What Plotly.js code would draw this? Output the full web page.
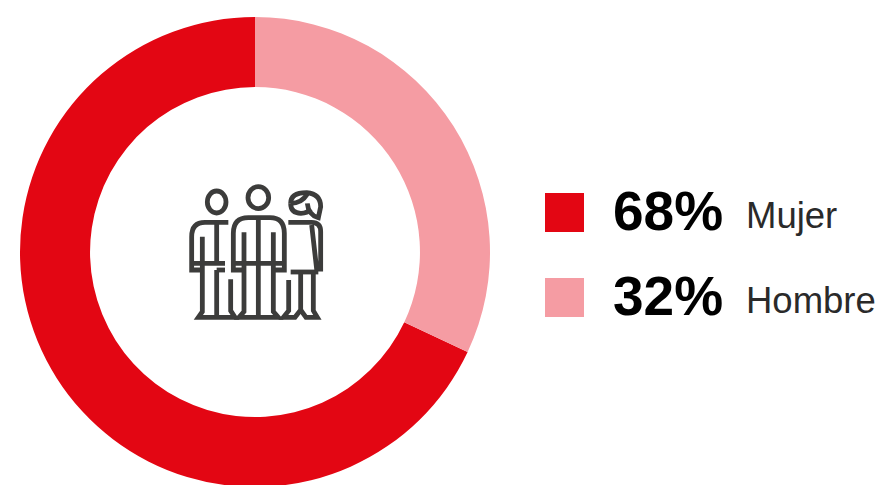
<!DOCTYPE html>
<html>
<head>
<meta charset="utf-8">
<script src="https://cdn.plot.ly/plotly-3.0.1.min.js"></script>
<style>
html,body{margin:0;padding:0;background:#fff;overflow:hidden;width:882px;height:485px}
#chart{width:882px;height:500px}
</style>
</head>
<body>
<div id="chart"></div>
<script>
// Gender split
const categories = ["Mujer", "Hombre"];
const shares = [68, 32];
const colors = ["#E30613", "#F59CA3"];

const W = 882, H = 500;
const FONT = '"Liberation Sans", Arial, sans-serif';

// Pixel to paper conversion for layout items
const px = x => x / W;
const py = y => 1 - y / H;

// Ring geometry
const ring = {left: 20, right: 490, top: 17, bottom: 487};

// People pictogram: strokes in a local 3x grid
const iconOrigin = [170, 170], iconScale = 1 / 3;
const ix = x => iconOrigin[0] + x * iconScale;
const iy = y => iconOrigin[1] + y * iconScale;
const K = 0.5523;
function ellipsePath(cx, cy, rx, ry) {
  const p = (x, y) => `${px(ix(x))},${py(iy(y))}`;
  return `M${p(cx - rx, cy)} C${p(cx - rx, cy - K * ry)} ${p(cx - K * rx, cy - ry)} ${p(cx, cy - ry)} ` +
         `C${p(cx + K * rx, cy - ry)} ${p(cx + rx, cy - K * ry)} ${p(cx + rx, cy)} ` +
         `C${p(cx + rx, cy + K * ry)} ${p(cx + K * rx, cy + ry)} ${p(cx, cy + ry)} ` +
         `C${p(cx - K * rx, cy + ry)} ${p(cx - rx, cy + K * ry)} ${p(cx - rx, cy)} Z`;
}
// Converts "M x y L x y Q x y x y" strings from the local grid to paper space
function strokePath(d) {
  const t = d.trim().split(/\s+/);
  let out = "", i = 0;
  while (i < t.length) {
    const cmd = t[i++];
    const n = cmd === "Q" ? 2 : 1;
    const pts = [];
    for (let k = 0; k < n; k++) {
      pts.push(`${px(ix(+t[i]))},${py(iy(+t[i + 1]))}`);
      i += 2;
    }
    out += cmd + pts.join(" ") + " ";
  }
  return out.trim();
}
const iconStrokes = [
  // left figure
  "M 175 157 L 105 157 Q 65 157 65 200 L 65 300 L 97 300",
  "M 65 280 L 165 280",
  "M 140 157 L 140 280",
  "M 97 200 L 97 425 L 85 442 L 195 442 L 182 422 L 182 328",
  "M 140 300 L 165 300",
  "M 140 300 L 140 442",
  // middle figure
  "M 222 300 L 190 300 L 190 190 Q 190 143 235 143 L 300 143 Q 343 143 343 190 L 343 300 L 310 300",
  "M 195 280 L 340 280",
  "M 265 143 L 265 442",
  "M 222 187 L 222 425 L 207 442 L 325 442 L 310 425 L 310 187",
  // right figure
  "M 355 157 L 425 157 Q 452 157 452 185 L 452 297 L 440 297 L 425 165",
  "M 362 306 L 445 306",
  "M 392 306 L 392 420 L 375 442 L 340 442 L 356 422 L 356 330",
  "M 430 306 L 430 422 L 442 442 L 408 442 L 392 420",
  // face and hair
  "M 362 100 Q 362 130 393 130 Q 412 130 422 118",
  "M 362 100 Q 362 68 410 68 Q 452 72 452 110 L 445 143 Q 415 135 412 100",
  "M 362 100 Q 395 100 412 72"
];
const iconHeads = [
  [140, 96, 28, 33],
  [265, 83, 31, 33]
];

const inkLine = {color: "#3C3C3B", width: 4.8};
const iconShapes = [
  ...iconStrokes.map(d => ({type: "path", xref: "paper", yref: "paper", path: strokePath(d), line: inkLine, layer: "above"})),
  ...iconHeads.map(h => ({type: "path", xref: "paper", yref: "paper", path: ellipsePath(...h), line: inkLine, layer: "above"}))
];

// Key swatches and labels
const keyRows = [212.5, 297.5];
const swatchShapes = keyRows.map((yc, i) => ({
  type: "rect", xref: "paper", yref: "paper",
  x0: px(545), x1: px(584), y0: py(yc - 19.5), y1: py(yc + 19.5),
  fillcolor: colors[i], line: {width: 0}
}));
const keyLabels = keyRows.flatMap((yc, i) => [
  {
    xref: "paper", yref: "paper", x: px(610.5), y: py(yc - 2), xanchor: "left", yanchor: "middle",
    text: `<b>${shares[i]}%</b>`, showarrow: false,
    font: {family: FONT, size: 55, color: "#000"}
  },
  {
    xref: "paper", yref: "paper", x: px(744), y: py(yc + 3), xanchor: "left", yanchor: "middle",
    text: categories[i], showarrow: false,
    font: {family: FONT, size: 36.5, color: "#2a2a2a"}
  }
]);

// The Mujer slice starts where the Hombre slice ends, so Hombre sits right of twelve o'clock
const total = shares.reduce((a, b) => a + b, 0);
const startAngle = shares[1] / total * 360;

Plotly.newPlot("chart", [{
  type: "pie",
  labels: categories,
  values: shares,
  marker: {colors: colors, line: {width: 0}},
  hole: 0.702,
  sort: false,
  direction: "clockwise",
  rotation: startAngle,
  textinfo: "none",
  hoverinfo: "none",
  domain: {
    x: [px(ring.left), px(ring.right)],
    y: [py(ring.bottom), py(ring.top)]
  }
}], {
  width: W,
  height: H,
  margin: {l: 0, r: 0, t: 0, b: 0},
  paper_bgcolor: "#fff",
  showlegend: false,
  shapes: [...swatchShapes, ...iconShapes],
  annotations: keyLabels
}, {displayModeBar: false, staticPlot: true});
</script>
</body>
</html>
